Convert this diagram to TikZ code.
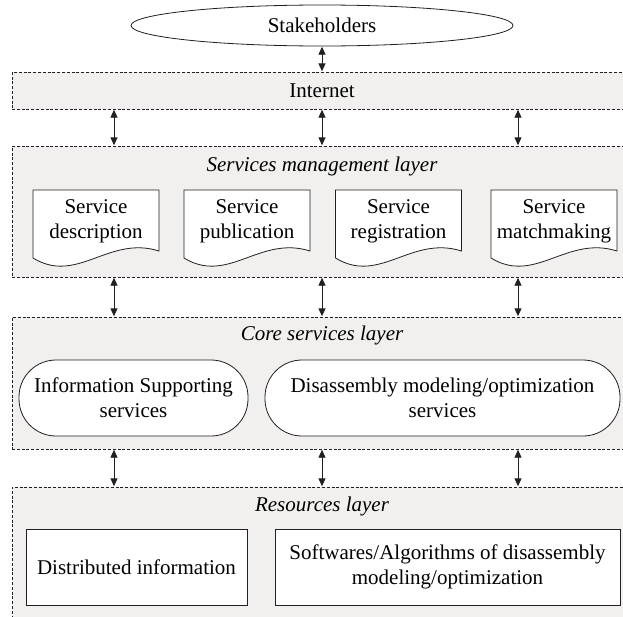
\documentclass[tikz,border=0pt]{standalone}
\usepackage{fontspec}
\setmainfont{Liberation Serif}
\usetikzlibrary{arrows.meta,shapes.geometric}
\definecolor{layerfill}{RGB}{241,240,238}
\definecolor{inkc}{RGB}{35,31,32}
\tikzset{
  layer/.style={draw=inkc, fill=layerfill, line width=0.8pt, dash pattern=on 3pt off 1.8pt, minimum width=620pt, inner sep=0pt},
  ltitle/.style={font=\fontsize{21}{25}\selectfont\itshape, inner sep=0pt},
  doctext/.style={align=center, inner sep=0pt},
  docline/.style={draw=inkc, fill=white, line width=0.8pt},
  stadium/.style={draw=inkc, fill=white, line width=0.8pt, rounded corners=37pt, minimum height=76pt, align=center, inner sep=0pt},
  resbox/.style={draw=inkc, fill=white, line width=0.8pt, minimum height=76pt, align=center, inner sep=0pt},
  biarrow/.style={line width=0.9pt, draw=inkc, {Triangle[width=7pt,length=8pt]}-{Triangle[width=7pt,length=8pt]}, shorten <=0.3pt, shorten >=0.3pt},
}
\newcommand{\docbox}[3]{%
  \draw[docline] (#2-63,258) -- (#2-63,190) -- (#2+63,190) -- (#2+63,251)
    .. controls (#2+12.6,235) and (#2-18.9,285) .. (#2-63,258) -- cycle;
  \node[doctext] (#1) at (#2,221) {#3};
}
\begin{document}
\begin{tikzpicture}[x=1pt,y=-1pt,font=\fontsize{21}{25}\selectfont]
\useasboundingbox (0,0) rectangle (623,616);
\clip (0,0) rectangle (623,616);
% columns for connectors
\coordinate (c1) at (114,0);
\coordinate (c2) at (322,0);
\coordinate (c3) at (518,0);
% stakeholders
\node[draw=inkc, fill=white, line width=0.8pt, ellipse, minimum width=382pt, minimum height=41pt, inner sep=0pt] (stake) at (322,25.5) {Stakeholders};
% layers
\node[layer, minimum height=37pt] (internet) at (322,90.5) {Internet};
\node[layer, minimum height=131pt] (sml) at (322,211.5) {};
\node[layer, minimum height=132pt] (core) at (322,383) {};
\node[layer, minimum height=153pt] (res) at (322,563.5) {};
\node[ltitle] (smlt) at (322,166) {Services management layer};
\node[ltitle] (coret) at (322,335) {Core services layer};
\node[ltitle] (rest) at (322,506) {Resources layer};
% documents
\docbox{d1}{96}{Service\\description}
\docbox{d2}{247}{Service\\publication}
\docbox{d3}{398.5}{Service\\registration}
\docbox{d4}{554}{Service\\matchmaking}
% core services
\node[stadium, minimum width=229pt] (s1) at (133.5,398) {Information Supporting\\services};
\node[stadium, minimum width=355pt] (s2) at (442.5,398) {Disassembly modeling/optimization\\services};
% resources
\node[resbox, minimum width=221pt] (r1) at (136.5,567) {Distributed information};
\node[resbox, minimum width=345pt] (r2) at (447.5,567) {Softwares/Algorithms of disassembly\\modeling/optimization};
% connectors
\draw[biarrow] (stake.south) -- (internet.north -| stake.south);
\foreach \c in {c1,c2,c3}{
  \draw[biarrow] (\c |- internet.south) -- (\c |- sml.north);
  \draw[biarrow] (\c |- sml.south) -- (\c |- core.north);
  \draw[biarrow] (\c |- core.south) -- (\c |- res.north);
}
\end{tikzpicture}
\end{document}
